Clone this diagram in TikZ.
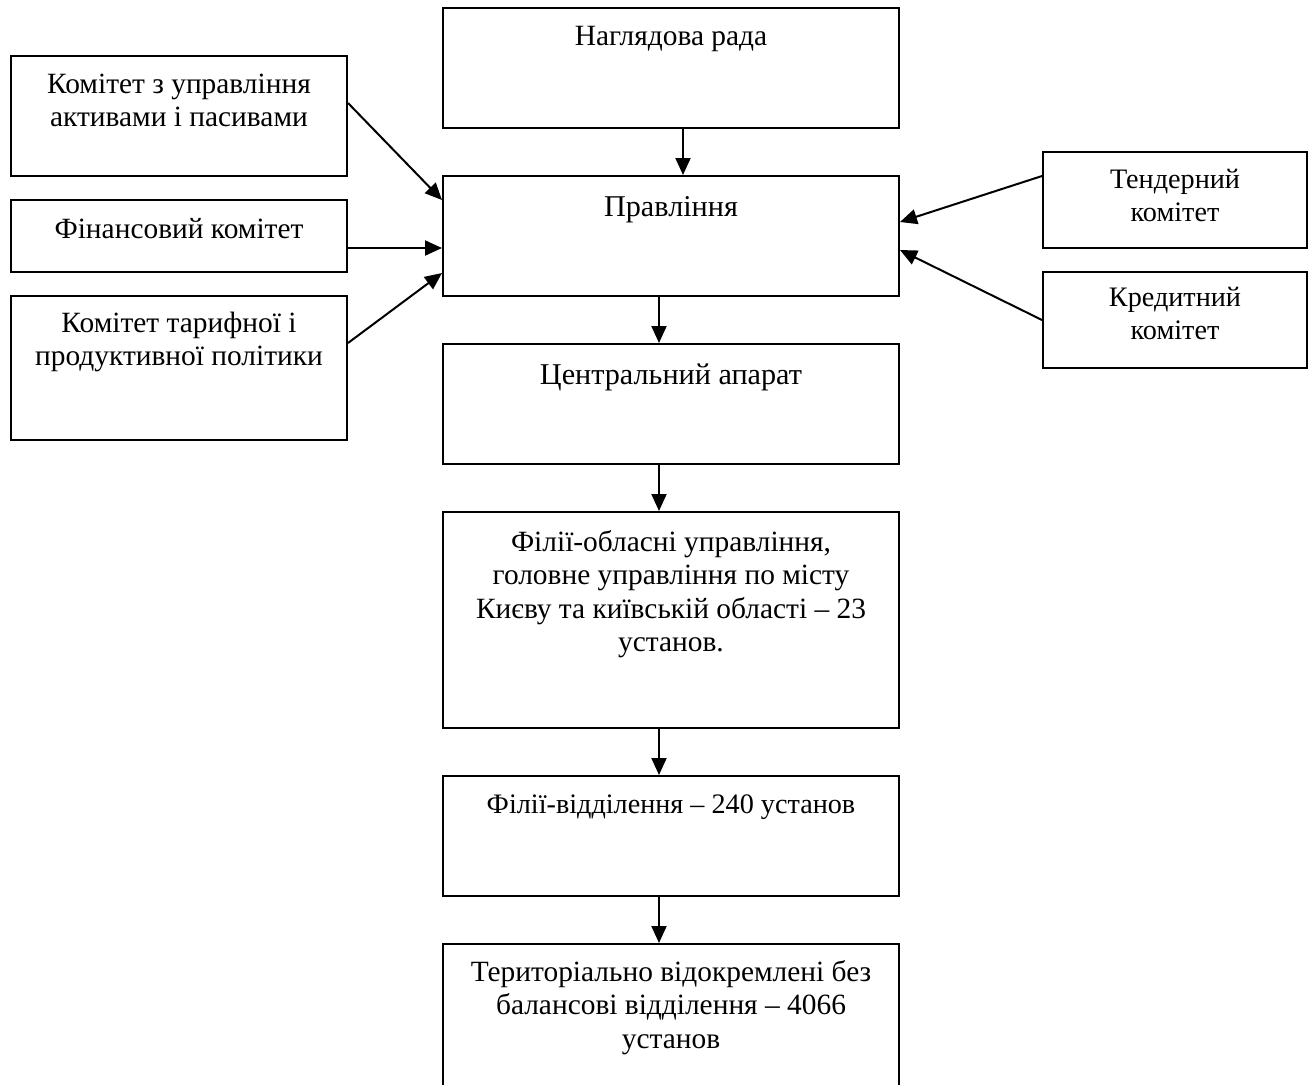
\documentclass[tikz,border=0pt]{standalone}
\usepackage{fontspec}
\setmainfont{Liberation Serif}
\usetikzlibrary{arrows.meta}

\begin{document}
\begin{tikzpicture}[
		x=0.5pt, y=-0.5pt,
		box/.style={draw, line width=1pt, inner sep=0pt},
		mid/.style={box, minimum width=228pt},
		lft/.style={box, minimum width=168pt},
		rgt/.style={box, minimum width=132pt},
		txt/.style={anchor=base, align=center, inner sep=0pt, font=\fontsize{14.7pt}{16.8pt}\selectfont},
		big/.style={font=\fontsize{15.1pt}{19pt}\selectfont},
		small/.style={font=\fontsize{14.1pt}{16.8pt}\selectfont},
		arr/.style={line width=1pt, -{Triangle[length=8.5pt, width=7.5pt]}}
	]
	\useasboundingbox (0,0) rectangle (1311,1084);
	\clip (0,0) rectangle (1311,1084);

	\node[mid, minimum height=60pt] (nagl) at (671,68) {};
	\node[mid, minimum height=60pt] (prav) at (671,236) {};
	\node[mid, minimum height=60pt] (centr) at (671,404) {};
	\node[mid, minimum height=108pt] (fil) at (671,620) {};
	\node[mid, minimum height=60pt] (vid) at (671,836) {};
	\node[mid, minimum height=80pt] (ter) at (671,1024) {};

	\node[lft, minimum height=60pt] (aktiv) at (179,116) {};
	\node[lft, minimum height=36pt] (fin) at (179,236) {};
	\node[lft, minimum height=72pt] (tarif) at (179,368) {};

	\node[rgt, minimum height=48pt] (tend) at (1175,200) {};
	\node[rgt, minimum height=48pt] (kred) at (1175,320) {};

	\node[txt] (nagl-t) at ([yshift=-19pt]nagl.north) {Наглядова рада};
	\node[txt, big] (prav-t) at ([yshift=-20.5pt]prav.north) {Правління};
	\node[txt, big] (centr-t) at ([yshift=-20.5pt]centr.north) {Центральний апарат};
	\node[txt] (fil-t) at ([yshift=-70.4pt]fil.north) {Філії-обласні управління,\\головне управління по місту\\Києву та київській області -- 23\\установ.};
	\node[txt, small] (vid-t) at ([yshift=-19pt]vid.north) {Філії-відділення -- 240 установ};
	\node[txt] (ter-t) at ([yshift=-52.6pt]ter.north) {Територіально відокремлені без\\балансові відділення -- 4066\\установ};
	\node[txt] (aktiv-t) at ([yshift=-35.8pt]aktiv.north) {Комітет з управління\\активами і пасивами};
	\node[txt] (fin-t) at ([yshift=-19.5pt]fin.north) {Фінансовий комітет};
	\node[txt] (tarif-t) at ([yshift=-35.3pt]tarif.north) {Комітет тарифної і\\продуктивної політики};
	\node[txt, small] (tend-t) at ([yshift=-35.3pt]tend.north) {Тендерний\\комітет};
	\node[txt, small] (kred-t) at ([yshift=-34.3pt]kred.north) {Кредитний\\комітет};

	\draw[arr] ([xshift=6pt]nagl.south) -- ([xshift=6pt]prav.north);
	\draw[arr] ([xshift=-6pt]prav.south) -- ([xshift=-6pt]centr.north);
	\draw[arr] ([xshift=-6pt]centr.south) -- ([xshift=-6pt]fil.north);
	\draw[arr] ([xshift=-6pt]fil.south) -- ([xshift=-6pt]vid.north);
	\draw[arr] ([xshift=-6pt]vid.south) -- ([xshift=-6pt]ter.north);

	\draw[arr] ([yshift=6.5pt]aktiv.east) -- ([yshift=18pt]prav.west);
	\draw[arr] ([yshift=-6pt]fin.east) -- ([yshift=-6pt]prav.west);
	\draw[arr] ([yshift=12.5pt]tarif.east) -- ([yshift=-18.5pt]prav.west);
	\draw[arr] ([yshift=12pt]tend.west) -- ([yshift=7pt]prav.east);
	\draw[arr] (kred.west) -- ([yshift=-7pt]prav.east);
\end{tikzpicture}
\end{document}
